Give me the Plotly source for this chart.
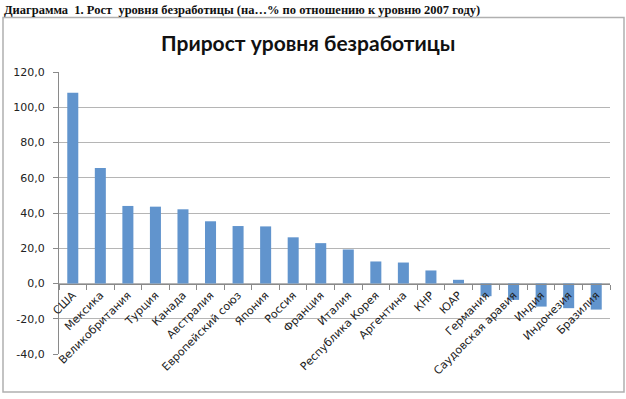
import plotly.graph_objects as go

countries = ["США", "Мексика", "Великобритания", "Турция", "Канада", "Австралия",
             "Европейский союз", "Япония", "Россия", "Франция", "Италия",
             "Республика Корея", "Аргентина", "КНР", "ЮАР", "Германия",
             "Саудовская аравия", "Индия", "Индонезия", "Бразилия"]
growth = [108.2, 65.6, 44.0, 43.6, 42.1, 35.3, 32.6, 32.4, 26.2, 22.9, 19.3,
          12.5, 11.9, 7.4, 2.1, -7.2, -9.3, -13.1, -14.0, -14.8]
y_tick_vals = [-40, -20, 0, 20, 40, 60, 80, 100, 120]
y_tick_text = ["-40,0", "-20,0", "0,0", "20,0", "40,0", "60,0", "80,0", "100,0", "120,0"]

header = "Диаграмма  1. Рост  уровня безработицы (на…% по отношению к уровню 2007 году)"
title = "Прирост уровня безработицы"

W, H = 626, 399
ml, mr, mt, mb = 59, 16, 72, 45
pw, ph = W - ml - mr, H - mt - mb

def px_x(x):
    return (x - ml) / pw

def px_y(y):
    return (H - mb - y) / ph

fig = go.Figure(go.Bar(
    x=countries, y=growth,
    marker=dict(color="#6194cd", line=dict(width=0)),
))

fig.update_layout(
    width=W, height=H,
    margin=dict(l=ml, r=mr, t=mt, b=mb),
    paper_bgcolor="white", plot_bgcolor="white",
    bargap=0.6,
    showlegend=False,
    font=dict(family="DejaVu Sans", size=11, color="#222"),
    xaxis=dict(
        anchor="free", position=(0 - (-40)) / 160,
        showline=True, linecolor="#8a8a8a", linewidth=1,
        ticks="outside", tickson="boundaries", ticklen=5, tickcolor="#8a8a8a",
        tickangle=-45, tickfont=dict(family="DejaVu Sans", size=11, color="#222"),
        showgrid=False, zeroline=False,
    ),
    yaxis=dict(
        range=[-40, 120],
        tickvals=y_tick_vals, ticktext=y_tick_text,
        showline=True, linecolor="#8a8a8a", linewidth=1,
        ticks="outside", ticklen=5, tickcolor="#8a8a8a",
        ticklabelstandoff=6,
        tickfont=dict(family="DejaVu Sans", size=11, color="#222"),
        showgrid=True, gridcolor="#b5b5b5", gridwidth=1,
        zeroline=False,
    ),
    shapes=[dict(
        type="rect", xref="paper", yref="paper",
        x0=px_x(3), x1=px_x(624), y0=px_y(392), y1=px_y(17.5),
        line=dict(color="#b0b0b0", width=1.5), fillcolor="rgba(0,0,0,0)",
        layer="below",
    )],
    annotations=[
        dict(text="<b>" + header + "</b>", xref="paper", yref="paper",
             x=px_x(2), y=px_y(10), xanchor="left", yanchor="middle",
             showarrow=False,
             font=dict(family="Liberation Serif", size=12.5, color="#111")),
        dict(text="<b>" + title + "</b>", xref="paper", yref="paper",
             x=px_x(308), y=px_y(43), xanchor="center", yanchor="middle",
             showarrow=False,
             font=dict(family="Lato", size=21, color="#111")),
    ],
)

fig.write_html("out.html",
               config={"displayModeBar": False},
               post_script="document.body.style.margin='0';document.body.style.overflow='hidden';")
